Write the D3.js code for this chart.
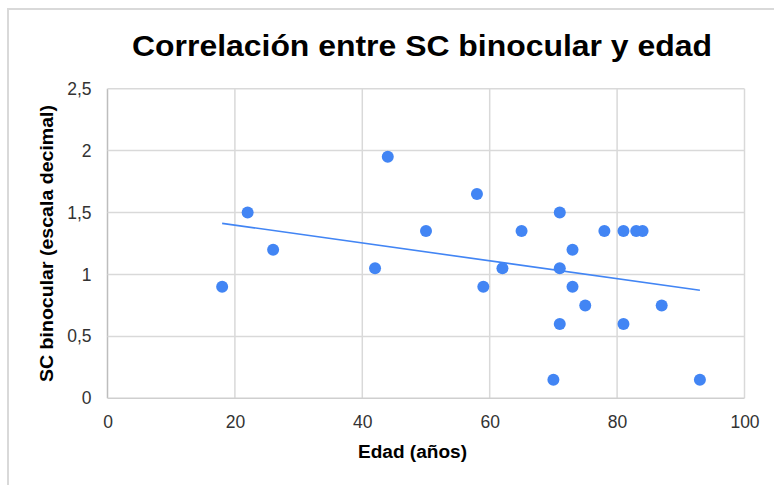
<!DOCTYPE html>
<html><head><meta charset="utf-8">
<script src="https://cdn.jsdelivr.net/npm/d3@7"></script>
<style>html,body{margin:0;padding:0;background:#fff;}svg{display:block;}</style>
</head><body>
<svg id="c" width="774" height="485"></svg>
<script>
const ages   = [18,22,26,44,42,50,58,59,62,65,71,71,71,70,73,73,75,78,81,81,83,84,87,93];
const scVals = [0.9,1.5,1.2,1.95,1.05,1.35,1.65,0.9,1.05,1.35,1.5,1.05,0.6,0.15,1.2,0.9,0.75,1.35,1.35,0.6,1.35,1.35,0.75,0.15];
const xTicks = [0,20,40,60,80,100];
const yTicks = [0,0.5,1,1.5,2,2.5];
const title = "Correlación entre SC binocular y edad";
const xTitle = "Edad (años)";
const yTitle = "SC binocular (escala decimal)";

const svg = d3.select("#c");
const font = "'Liberation Sans', Arial, sans-serif";
const blue = "#4285F4";

// outer frame
svg.append("path").attr("d","M8,485 V9 H774").attr("fill","none").attr("stroke","#d9d9d9").attr("stroke-width",2);

const x = d3.scaleLinear().domain([0,100]).range([107.5,744.5]);
const y = d3.scaleLinear().domain([0,2.5]).range([398.3,88.7]);
const fmt = d => String(d).replace(".", ",");

// grid
const g = svg.append("g");
g.selectAll(".vg").data(xTicks).join("line")
  .attr("x1",d=>x(d)).attr("x2",d=>x(d)).attr("y1",y(0)).attr("y2",y(2.5))
  .attr("stroke", d=> d===0 ? "#bdbdbd" : "#d9d9d9").attr("stroke-width",1.5);
g.selectAll(".hg").data(yTicks).join("line")
  .attr("y1",d=>y(d)).attr("y2",d=>y(d)).attr("x1",x(0)).attr("x2",x(100))
  .attr("stroke", d=> d===0 ? "#cfcfcf" : "#d9d9d9").attr("stroke-width",1.5);

// axes labels via d3 axes
const xAxis = svg.append("g").attr("transform",`translate(0,${y(0)})`)
  .call(d3.axisBottom(x).tickValues(xTicks).tickSize(0).tickPadding(17).tickFormat(d=>d));
xAxis.select(".domain").remove();
xAxis.selectAll("text").attr("font-family",font).attr("font-size",17.5).attr("fill","#333");

const yAxis = svg.append("g").attr("transform",`translate(${x(0)},0)`)
  .call(d3.axisLeft(y).tickValues(yTicks).tickSize(0).tickPadding(16).tickFormat(fmt));
yAxis.select(".domain").remove();
yAxis.selectAll("text").attr("font-family",font).attr("font-size",17.5).attr("fill","#333");

// trendline (least squares)
const n = ages.length;
const mx = d3.mean(ages), my = d3.mean(scVals);
let sxy=0, sxx=0;
for (let i=0;i<n;i++){ sxy += (ages[i]-mx)*(scVals[i]-my); sxx += (ages[i]-mx)**2; }
const slope = sxy/sxx, icpt = my - slope*mx;
const x0 = d3.min(ages), x1 = d3.max(ages);
svg.append("line").attr("x1",x(x0)).attr("y1",y(icpt+slope*x0)).attr("x2",x(x1)).attr("y2",y(icpt+slope*x1))
  .attr("stroke",blue).attr("stroke-width",1.6);

// points
svg.append("g").selectAll("circle").data(ages.map((a,i)=>[a,scVals[i]])).join("circle")
  .attr("cx",d=>x(d[0])).attr("cy",d=>y(d[1])).attr("r",6).attr("fill",blue);

// titles
svg.append("text").attr("x",422).attr("y",56).attr("text-anchor","middle")
  .attr("font-family",font).attr("font-weight","bold").attr("font-size",29).attr("fill","#000")
  .attr("textLength",580).attr("lengthAdjust","spacingAndGlyphs").text(title);
svg.append("text").attr("x",412.5).attr("y",458).attr("text-anchor","middle")
  .attr("font-family",font).attr("font-weight","bold").attr("font-size",18).attr("fill","#000")
  .attr("textLength",109).attr("lengthAdjust","spacingAndGlyphs").text(xTitle);
svg.append("text").attr("transform","translate(53,243.5) rotate(-90)").attr("text-anchor","middle")
  .attr("font-family",font).attr("font-weight","bold").attr("font-size",18).attr("fill","#000")
  .attr("textLength",277).attr("lengthAdjust","spacingAndGlyphs").text(yTitle);
</script>
</body></html>
